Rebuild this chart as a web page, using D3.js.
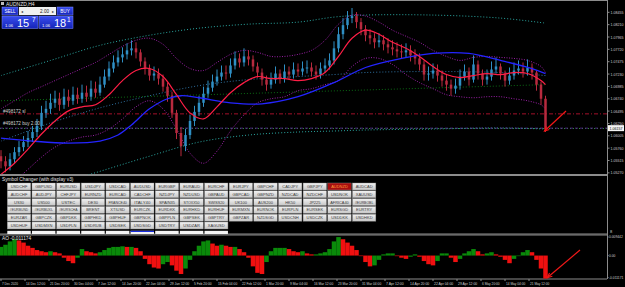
<!DOCTYPE html>
<html>
<head>
<meta charset="utf-8">
<script src="https://cdn.jsdelivr.net/npm/d3@7"></script>
<style>
  html, body { margin: 0; padding: 0; background: #000; }
  svg { display: block; font-family: "Liberation Sans", Arial, sans-serif; }
</style>
</head>
<body>
<div id="chart"></div>
<script>
// ---- data (daily blocks of 6 H4 bars) ----
const firstOpen = 1.0560;
const dayClose = [1.0550,1.0540,1.0554,1.0568,1.0578,1.0588,1.0596,1.0608,1.0620,1.0646,
  1.0654,1.0666,1.0674,1.0662,1.0678,1.0670,1.0682,1.0674,1.0686,1.0678,
  1.0694,1.0686,1.0702,1.0718,1.0734,1.0746,1.0756,1.0762,1.0770,1.0774,
  1.0766,1.0748,1.0734,1.0720,1.0724,1.0714,1.0698,1.0680,1.0646,1.0606,
  1.0580,1.0602,1.0630,1.0648,1.0666,1.0684,1.0696,1.0708,1.0718,1.0726,
  1.0724,1.0740,1.0754,1.0746,1.0758,1.0752,1.0738,1.0726,1.0712,1.0702,
  1.0712,1.0724,1.0714,1.0728,1.0722,1.0732,1.0728,1.0734,1.0736,1.0728,
  1.0722,1.0734,1.0740,1.0750,1.0774,1.0802,1.0820,1.0834,1.0838,1.0826,
  1.0812,1.0800,1.0794,1.0786,1.0790,1.0782,1.0776,1.0772,1.0768,1.0766,
  1.0770,1.0760,1.0754,1.0742,1.0722,1.0724,1.0730,1.0720,1.0710,1.0702,
  1.0694,1.0700,1.0718,1.0728,1.0712,1.0742,1.0724,1.0712,1.0718,1.0732,
  1.0738,1.0724,1.0710,1.0720,1.0730,1.0734,1.0728,1.0736,1.0726,1.0702,
  1.0674,1.0614];
const dayHigh = [1.0572,1.0560,1.0566,1.0578,1.0590,1.0600,1.0610,1.0620,1.0634,1.0660,
  1.0670,1.0684,1.0690,1.0686,1.0694,1.0692,1.0698,1.0696,1.0702,1.0700,
  1.0710,1.0708,1.0718,1.0732,1.0748,1.0760,1.0770,1.0776,1.0784,1.0790,
  1.0786,1.0772,1.0756,1.0742,1.0738,1.0734,1.0722,1.0706,1.0688,1.0652,
  1.0618,1.0614,1.0642,1.0660,1.0680,1.0698,1.0710,1.0722,1.0732,1.0740,
  1.0740,1.0754,1.0768,1.0764,1.0774,1.0770,1.0760,1.0746,1.0734,1.0720,
  1.0726,1.0738,1.0732,1.0742,1.0738,1.0746,1.0744,1.0748,1.0750,1.0746,
  1.0740,1.0746,1.0754,1.0764,1.0788,1.0816,1.0834,1.0848,1.0854,1.0846,
  1.0834,1.0820,1.0812,1.0804,1.0804,1.0800,1.0794,1.0790,1.0786,1.0782,
  1.0784,1.0780,1.0772,1.0764,1.0750,1.0738,1.0744,1.0742,1.0730,1.0722,
  1.0712,1.0714,1.0732,1.0742,1.0736,1.0760,1.0750,1.0732,1.0732,1.0748,
  1.0756,1.0744,1.0730,1.0736,1.0746,1.0750,1.0746,1.0752,1.0744,1.0730,
  1.0708,1.0680];
const dayLow = [1.0536,1.0528,1.0532,1.0546,1.0560,1.0570,1.0578,1.0588,1.0598,1.0612,
  1.0636,1.0644,1.0656,1.0650,1.0654,1.0658,1.0662,1.0664,1.0666,1.0668,
  1.0670,1.0676,1.0680,1.0696,1.0710,1.0726,1.0738,1.0746,1.0752,1.0760,
  1.0754,1.0738,1.0722,1.0710,1.0710,1.0702,1.0688,1.0668,1.0636,1.0594,
  1.0560,1.0570,1.0594,1.0620,1.0640,1.0658,1.0676,1.0688,1.0700,1.0710,
  1.0712,1.0716,1.0732,1.0736,1.0738,1.0740,1.0728,1.0716,1.0700,1.0690,
  1.0694,1.0704,1.0704,1.0706,1.0712,1.0714,1.0718,1.0720,1.0724,1.0718,
  1.0712,1.0714,1.0726,1.0732,1.0742,1.0766,1.0792,1.0812,1.0824,1.0814,
  1.0800,1.0788,1.0782,1.0774,1.0776,1.0770,1.0764,1.0760,1.0756,1.0754,
  1.0756,1.0748,1.0742,1.0730,1.0710,1.0710,1.0714,1.0708,1.0698,1.0690,
  1.0680,1.0684,1.0692,1.0710,1.0700,1.0706,1.0712,1.0700,1.0702,1.0710,
  1.0724,1.0712,1.0698,1.0702,1.0712,1.0722,1.0716,1.0720,1.0712,1.0690,
  1.0662,1.0608];

// indicator lines (day index + price)
const maDays = [0,3,6,9,12,15,18,21,24,27,30,33,36,39,42,45,48,51,54,57,60,
  63,66,69,72,75,78,81,84,87,90,93,96,99,102,105,108,111,114,117,120,121];
const fastMA = [1.0524,1.0546,1.0574,1.0604,1.0630,1.0650,1.0658,1.0662,1.0682,1.0710,1.0730,
  1.0734,1.0718,1.0682,1.0646,1.0634,1.0658,1.0686,1.0706,1.0718,1.0714,
  1.0714,1.0710,1.0714,1.0726,1.0758,1.0794,1.0810,1.0802,1.0786,1.0774,
  1.0758,1.0738,1.0722,1.0716,1.0720,1.0724,1.0722,1.0726,1.0724,1.0710,1.0702];
const bandUp = [1.0654,1.0670,1.0686,1.0698,1.0710,1.0722,1.0734,1.0746,1.0762,1.0778,1.0790,
  1.0794,1.0782,1.0754,1.0734,1.0730,1.0746,1.0762,1.0770,1.0766,1.0758,
  1.0758,1.0762,1.0770,1.0790,1.0822,1.0840,1.0838,1.0826,1.0810,1.0798,
  1.0786,1.0770,1.0758,1.0750,1.0756,1.0758,1.0756,1.0754,1.0750,1.0738,1.0726];
const bandDn = [1.0490,1.0510,1.0534,1.0558,1.0578,1.0590,1.0598,1.0602,1.0614,1.0634,1.0658,
  1.0670,1.0654,1.0614,1.0566,1.0546,1.0570,1.0610,1.0642,1.0666,1.0674,
  1.0678,1.0690,1.0694,1.0702,1.0710,1.0738,1.0754,1.0754,1.0742,1.0722,
  1.0706,1.0694,1.0682,1.0678,1.0676,1.0678,1.0678,1.0674,1.0670,1.0662,1.0654];
const slowDays = [0,7,15,22,26,29,33,37,40,44,51,58,66,74,81,89,96,104,111,118,121];
const slowMA = [1.0596,1.0590,1.0586,1.0590,1.0602,1.0622,1.0654,1.0674,1.0680,1.0676,
  1.0666,1.0664,1.0678,1.0706,1.0736,1.0754,1.0764,1.0764,1.0750,1.0734,1.0724];
const chanDays = [0,11,22,33,44,55,66,74,81,96,111,121];
const chanUp  = [1.0720,1.0750,1.0780,1.0800,1.0814,1.0822,1.0826,1.0836,1.0840,1.0840,1.0834,1.0824];
const chanMid = [1.0590,1.0626,1.0656,1.0680,1.0700,1.0712,1.0718,1.0722,1.0726,1.0728,1.0726,1.0720];
const chanDn  = [1.0460,1.0500,1.0530,1.0560,1.0588,1.0602,1.0608,1.0610,1.0612,1.0614,1.0616,1.0614];
const trendDays = [0,121];
const trendLine = [1.0670,1.0702];

const slPrice = 1.06440, buyPrice = 1.06150, bidPrice = 1.06157;
const priceTicks = d3.range(14).map(i => 1.08455 - i * 0.00245);

// Awesome Oscillator, one value per day
const aoValues = [0.0044,0.0055,0.0072,0.0083,0.0077,0.0066,0.0050,0.0039,0.0028,0.0022,
  0.0017,0.0022,0.0017,0.0011,-0.0011,-0.0028,-0.0039,-0.0011,0.0033,0.0022,
  0.0017,0.0011,0.0017,0.0028,0.0039,0.0044,0.0044,0.0047,0.0044,0.0044,
  0.0039,0.0022,-0.0017,-0.0044,-0.0061,-0.0066,-0.0044,-0.0033,-0.0050,-0.0077,
  -0.0094,-0.0066,-0.0022,0.0022,0.0050,0.0072,0.0077,0.0061,0.0050,0.0055,
  0.0050,0.0044,0.0044,0.0033,0.0017,-0.0011,-0.0055,-0.0088,-0.0094,-0.0033,
  0.0022,0.0039,0.0039,0.0039,0.0033,0.0022,0.0017,0.0022,0.0011,0.0006,
  0.0006,0.0011,0.0017,0.0033,0.0072,0.0094,0.0083,0.0066,0.0050,0.0028,
  -0.0003,-0.0033,-0.0055,-0.0050,-0.0022,0.0006,0.0011,0.0011,-0.0003,-0.0011,
  -0.0017,-0.0006,0.0006,-0.0006,-0.0028,-0.0044,-0.0050,-0.0028,0.0011,0.0011,
  -0.0011,-0.0033,-0.0017,0.0011,0.0022,0.0033,0.0022,0.0006,0.0011,0.0017,
  0.0006,-0.0006,-0.0022,-0.0039,-0.0017,-0.0003,0.0017,0.0028,0.0017,-0.0022,
  -0.0066,-0.0117];

const dateLabels = ["7 Dec 2020","14 Dec 12:00","21 Dec 20:00","30 Dec 04:00","7 Jan 12:00",
  "14 Jan 20:00","22 Jan 04:00","29 Jan 12:00","5 Feb 20:00","15 Feb 04:00","22 Feb 12:00",
  "1 Mar 20:00","9 Mar 04:00","16 Mar 12:00","23 Mar 20:00","31 Mar 04:00","7 Apr 12:00",
  "14 Apr 20:00","22 Apr 04:00","29 Apr 12:00","6 May 20:00","14 May 04:00","21 May 12:00"];

const symbolRows = [
  ["USDCHF","GBPUSD","EURUSD","USDJPY","USDCAD","AUDUSD","EURGBP","EURAUD","EURCHF","EURJPY","GBPCHF","CADJPY","GBPJPY","AUDNZD","AUDCAD"],
  ["AUDCHF","AUDJPY","CHFJPY","EURNZD","EURCAD","CADCHF","NZDJPY","NZDUSD","GBPAUD","GBPCAD","GBPNZD","NZDCAD","NZDCHF","USDNOK","XAUUSD"],
  ["US30","US500","USTEC","DE30","FRANCE40","ITALY40","SPAIN35","STOXX50","SWISS20","UK100","AUS200","HK50","JP225","AFRICA40","#EURBOBL"],
  ["#EURBUND","#EURBUXL","#EURSCHA","BRENT","XTIUSD","EURCZK","EURDKK","EURHKD","EURHUF","EURMXN","EURNOK","EURPLN","EURSEK","EURSGD","EURTRY"],
  ["EURZAR","GBPCZK","GBPDKK","GBPHKD","GBPHUF","GBPNOK","GBPPLN","GBPSEK","GBPTRY","GBPZAR","NZDSGD","USDCNH","USDCZK","USDDKK","USDHKD"],
  ["USDHUF","USDMXN","USDPLN","USDRUB","USDSEK","USDSGD","USDTRY","USDZAR","XAGUSD"]
];
const activeSymbol = "AUDNZD";

// ---- layout ----
const W = 625, H = 287;
const axisX = 607;
const main = {top: 1, bottom: 174.5};
const sym = {top: 175.5, bottom: 234};
const ao = {top: 235, bottom: 279};

const svg = d3.select("#chart").append("svg")
  .attr("width", W).attr("height", H)
  .style("background", "#000");

const defs = svg.append("defs");
defs.append("clipPath").attr("id", "clipMain").append("rect")
  .attr("x", 0).attr("y", main.top).attr("width", axisX).attr("height", main.bottom - main.top);
defs.append("clipPath").attr("id", "clipAO").append("rect")
  .attr("x", 0).attr("y", ao.top + 1).attr("width", axisX).attr("height", ao.bottom - ao.top - 1);
const btnGrad = defs.append("linearGradient").attr("id", "btnGrad").attr("x2", 0).attr("y2", 1);
btnGrad.append("stop").attr("offset", 0).attr("stop-color", "#f2f2f2");
btnGrad.append("stop").attr("offset", 1).attr("stop-color", "#c6c6c6");
const blueGrad = defs.append("linearGradient").attr("id", "blueGrad").attr("x2", 0).attr("y2", 1);
blueGrad.append("stop").attr("offset", 0).attr("stop-color", "#3a4ef0");
blueGrad.append("stop").attr("offset", 1).attr("stop-color", "#1424b8");

const barX = d3.scaleLinear().domain([0, 726]).range([1, 545.5]);
const dayX = d => barX(d * 6);
const priceY = d3.scaleLinear().domain([1.05270, 1.08455]).range([172.85, 12.3]);
const aoY = d3.scaleLinear().domain([-0.011171, 0.009442]).range([277.5, 237]);

// squeeze small labels into the width the terminal gives them
const fit = (sel, w) => sel.attr("textLength", w).attr("lengthAdjust", "spacingAndGlyphs");

// ---- window frames ----
const frame = svg.append("g").attr("stroke", "#8c8c8c").attr("fill", "none");
frame.append("line").attr("x1", 0).attr("x2", axisX).attr("y1", 0.5).attr("y2", 0.5);
frame.append("line").attr("x1", axisX + 0.5).attr("x2", axisX + 0.5).attr("y1", 0).attr("y2", ao.bottom);
[main.bottom, sym.top, sym.bottom, ao.top, ao.bottom].forEach(y => {
  frame.append("line").attr("x1", 0).attr("x2", axisX).attr("y1", y).attr("y2", y);
});

// ---- main chart ----
const gMain = svg.append("g").attr("clip-path", "url(#clipMain)");

const line = (days, vals) => d3.line()
  .x((d, i) => dayX(days[i]))
  .y(d => priceY(d))
  .curve(d3.curveCatmullRom.alpha(0.5))(vals);

// channel & bands (dotted)
[[chanUp, "#2aa6a0"], [chanDn, "#2aa6a0"], [chanMid, "#2e6f9e"]].forEach(([v, c]) => {
  gMain.append("path").attr("d", line(chanDays, v)).attr("fill", "none")
    .attr("stroke", c).attr("stroke-width", 1).attr("stroke-dasharray", "1,2");
});
gMain.append("path").attr("d", line(trendDays, trendLine)).attr("fill", "none")
  .attr("stroke", "#0b6b14").attr("stroke-width", 1).attr("stroke-dasharray", "1,2");
[bandUp, bandDn].forEach(v => {
  gMain.append("path").attr("d", line(maDays, v)).attr("fill", "none")
    .attr("stroke", "#9a1fa6").attr("stroke-width", 1).attr("stroke-dasharray", "1,1.5");
});

// order lines
gMain.append("line").attr("x1", 0).attr("x2", axisX)
  .attr("y1", priceY(slPrice)).attr("y2", priceY(slPrice))
  .attr("stroke", "#a3102a").attr("stroke-dasharray", "4,2,1,2");
gMain.append("line").attr("x1", 0).attr("x2", axisX)
  .attr("y1", priceY(buyPrice)).attr("y2", priceY(buyPrice))
  .attr("stroke", "#2f8f3a").attr("stroke-dasharray", "1,2");
gMain.append("line").attr("x1", 0).attr("x2", axisX)
  .attr("y1", priceY(bidPrice)).attr("y2", priceY(bidPrice))
  .attr("stroke", "#5a2a9a").attr("stroke-dasharray", "3,2").attr("opacity", 0.8);

// candles
const candles = dayClose.map((c, i) => ({
  i, o: i ? dayClose[i - 1] : firstOpen, c, h: dayHigh[i], l: dayLow[i]
}));
const upCol = "#2f8fc4", dnCol = "#b82a3e";
const cg = gMain.append("g").selectAll("g").data(candles).join("g");
cg.append("line")
  .attr("x1", d => dayX(d.i)).attr("x2", d => dayX(d.i))
  .attr("y1", d => priceY(d.h)).attr("y2", d => priceY(d.l))
  .attr("stroke", d => d.c >= d.o ? upCol : dnCol).attr("stroke-width", 1);
cg.append("rect")
  .attr("x", d => dayX(d.i) - 1.25).attr("width", 2.5)
  .attr("y", d => priceY(Math.max(d.o, d.c)))
  .attr("height", d => Math.max(1, Math.abs(priceY(d.o) - priceY(d.c))))
  .attr("fill", d => d.c >= d.o ? upCol : dnCol);

// moving averages
gMain.append("path").attr("d", line(slowDays, slowMA)).attr("fill", "none")
  .attr("stroke", "#2424ff").attr("stroke-width", 1.3);
gMain.append("path").attr("d", line(maDays, fastMA)).attr("fill", "none")
  .attr("stroke", "#ff1e46").attr("stroke-width", 1.2);

// order labels
const lbl = svg.append("g").attr("font-size", 4.6).attr("fill", "#d0d0d0");
lbl.append("text").attr("x", 3).attr("y", priceY(slPrice) - 1).text("#498172 sl");
lbl.append("text").attr("x", 3).attr("y", priceY(buyPrice) - 3).text("#498172 buy 2.00");

// price axis
const ax = svg.append("g").attr("font-size", 4.4).attr("fill", "#cfcfcf");
priceTicks.forEach(p => {
  ax.append("line").attr("x1", axisX).attr("x2", axisX + 2.5)
    .attr("y1", priceY(p)).attr("y2", priceY(p)).attr("stroke", "#8c8c8c");
  fit(ax.append("text").attr("x", axisX + 3.5).attr("y", priceY(p) + 1.6).text(p.toFixed(5)), 13);
});
ax.append("rect").attr("x", axisX + 1).attr("y", priceY(bidPrice) - 3)
  .attr("width", 16).attr("height", 6).attr("fill", "#f4f4f4");
fit(ax.append("text").attr("x", axisX + 2.5).attr("y", priceY(bidPrice) + 1.7)
  .attr("fill", "#000").text(bidPrice.toFixed(5)), 13);

// red arrows
const arrow = (x1, y1, x2, y2) => {
  const a = Math.atan2(y2 - y1, x2 - x1), L = 5;
  svg.append("line").attr("x1", x1).attr("y1", y1).attr("x2", x2).attr("y2", y2)
    .attr("stroke", "#f01818").attr("stroke-width", 1.2);
  svg.append("path").attr("d", d3.line()([
    [x2 + L * Math.cos(a + Math.PI - 0.45), y2 + L * Math.sin(a + Math.PI - 0.45)],
    [x2, y2],
    [x2 + L * Math.cos(a + Math.PI + 0.45), y2 + L * Math.sin(a + Math.PI + 0.45)]
  ])).attr("fill", "none").attr("stroke", "#f01818").attr("stroke-width", 1.2);
};
arrow(566, 111, dayX(121) - 1, priceY(dayClose[121]) + 2);

// title & one-click panel
svg.append("rect").attr("x", 1).attr("y", 2).attr("width", 3).attr("height", 3).attr("fill", "#bbbbbb");
svg.append("text").attr("x", 6).attr("y", 5.5).attr("font-size", 5).attr("fill", "#e6e6e6").text("AUDNZD,H4");
const panel = svg.append("g");
const btn = (x, w, t) => {
  panel.append("rect").attr("x", x).attr("y", 7).attr("width", w).attr("height", 8)
    .attr("fill", "url(#blueGrad)").attr("stroke", "#7d8cff").attr("stroke-width", 0.5);
  panel.append("text").attr("x", x + w / 2).attr("y", 12.7).attr("text-anchor", "middle")
    .attr("font-size", 4.6).attr("fill", "#fff").text(t);
};
btn(2, 16, "SELL");
btn(57, 16, "BUY");
panel.append("rect").attr("x", 19).attr("y", 7).attr("width", 37).attr("height", 8).attr("fill", "#f0f0f0");
panel.append("text").attr("x", 21).attr("y", 12.5).attr("font-size", 4).attr("fill", "#333").text("◂");
panel.append("text").attr("x", 49).attr("y", 12.7).attr("font-size", 4.6).attr("fill", "#222").attr("text-anchor", "end").text("2.00");
panel.append("text").attr("x", 52).attr("y", 12.5).attr("font-size", 4).attr("fill", "#333").text("▸");
const quote = (x, w, big, small) => {
  panel.append("rect").attr("x", x).attr("y", 16).attr("width", w).attr("height", 12.5)
    .attr("fill", "url(#blueGrad)").attr("stroke", "#7d8cff").attr("stroke-width", 0.5);
  panel.append("text").attr("x", x + 3).attr("y", 26.5).attr("font-size", 4.2).attr("fill", "#fff").text("1.06");
  panel.append("text").attr("x", x + 15).attr("y", 27.3).attr("font-size", 11).attr("fill", "#fff").text(big);
  panel.append("text").attr("x", x + w - 6).attr("y", 22).attr("font-size", 6.5).attr("fill", "#fff").text(small);
};
quote(2, 36, "15", "7");
quote(39, 34, "18", "1");

// ---- symbol changer ----
const gs = svg.append("g");
gs.append("text").attr("x", 2).attr("y", 180.5).attr("font-size", 4.8).attr("fill", "#e0e0e0")
  .text("Symbol Changer (with display v3)");
const colStep = 24.65, rowStep = 7.8, bx0 = 7.3, by0 = 183;
symbolRows.forEach((row, r) => {
  row.forEach((s, c) => {
    const x = bx0 + c * colStep, y = by0 + r * rowStep;
    const active = s === activeSymbol;
    gs.append("rect").attr("x", x).attr("y", y).attr("width", colStep - 1.2).attr("height", 7)
      .attr("fill", active ? "#a80f0f" : "url(#btnGrad)").attr("stroke", "#8a8a8a").attr("stroke-width", 0.4);
    const t = gs.append("text").attr("x", x + (colStep - 1.2) / 2).attr("y", y + 4.9)
      .attr("text-anchor", "middle").attr("font-size", 4)
      .attr("fill", active ? "#ff9e3d" : "#3a3a3a").text(s);
    if (s.length > 6) fit(t, Math.min(19, s.length * 2.3));
  });
});
// next row of buttons, cut off by the AO window
d3.range(9).forEach(c => {
  const x = bx0 + c * colStep, y = by0 + 6 * rowStep + 1;
  gs.append("rect").attr("x", x).attr("y", y).attr("width", colStep - 1.2).attr("height", sym.bottom - y)
    .attr("fill", "#f4f4f4");
  if (c === 5) gs.append("rect").attr("x", x).attr("y", y).attr("width", colStep - 1.2).attr("height", 1.2).attr("fill", "#1a2ee0");
});

// ---- AO window ----
const gAO = svg.append("g").attr("clip-path", "url(#clipAO)");
gAO.selectAll("rect").data(aoValues).join("rect")
  .attr("x", (d, i) => dayX(i) - 2.25).attr("width", 4.5)
  .attr("y", d => aoY(Math.max(0, d)))
  .attr("height", d => Math.abs(aoY(d) - aoY(0)))
  .attr("fill", (d, i) => (i === 0 || d >= aoValues[i - 1]) ? "#0a8a0a" : "#f01010");
svg.append("text").attr("x", 2).attr("y", 240).attr("font-size", 4.8).attr("fill", "#e0e0e0")
  .text("AO -0.011174");
const aoAx = svg.append("g").attr("font-size", 3.3).attr("fill", "#cfcfcf");
[[0.009442, "0.009442"], [0, "0.00"], [-0.011171, "-0.011171"]].forEach(([v, t]) => {
  aoAx.append("line").attr("x1", axisX).attr("x2", axisX + 1.5)
    .attr("y1", aoY(v)).attr("y2", aoY(v)).attr("stroke", "#8c8c8c");
  aoAx.append("text").attr("x", axisX + 2).attr("y", aoY(v) + 1.2).text(t);
});
svg.append("text").attr("x", axisX + 3).attr("y", 233).attr("font-size", 4).attr("fill", "#cfcfcf").text("8");
arrow(580, 250, dayX(121) + 2, aoY(aoValues[121]) - 1);

// date axis
const dx = svg.append("g").attr("font-size", 4.2).attr("fill", "#cfcfcf");
dateLabels.forEach((t, i) => {
  const x = barX(i * 32);
  dx.append("line").attr("x1", x).attr("x2", x).attr("y1", ao.bottom).attr("y2", ao.bottom + 2)
    .attr("stroke", "#8c8c8c");
  fit(dx.append("text").attr("x", x + 1).attr("y", 284.5).text(t), t.length * 1.6);
});
</script>
</body>
</html>
